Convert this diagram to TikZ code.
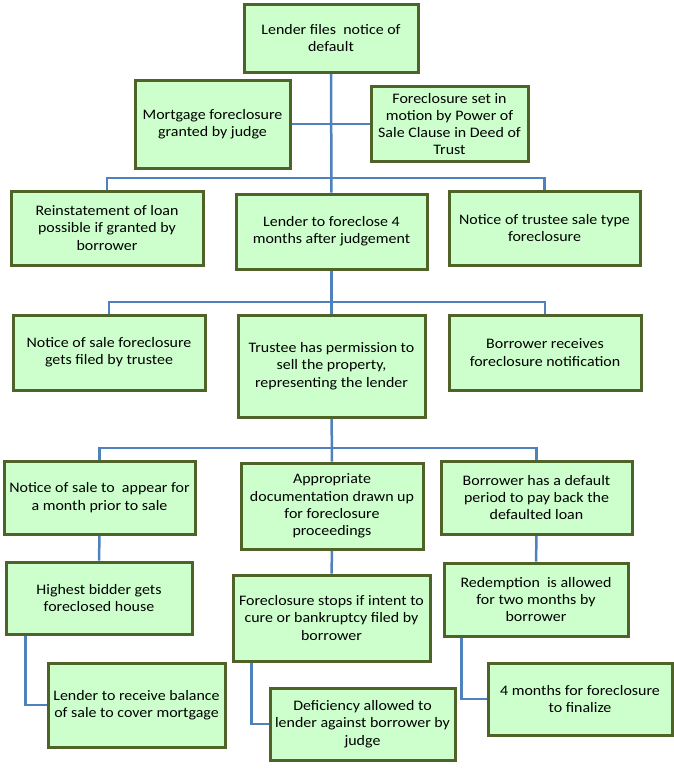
\documentclass[tikz,border=0pt]{standalone}
\usepackage{fontspec}
\setmainfont{Carlito}[FakeStretch=1.1]
\usetikzlibrary{backgrounds}
\definecolor{boxfill}{HTML}{CCFFCC}
\definecolor{boxline}{HTML}{4F6228}
\definecolor{linkblue}{HTML}{4F81BD}

\begin{document}
\begin{tikzpicture}[x=1pt,y=-1pt,
    box/.style={draw=boxline, fill=boxfill, line width=3pt, align=center,
        inner sep=1pt, font=\fontsize{14.5}{17.3}\selectfont},
    link/.style={draw=linkblue, line width=2.5pt}]
\useasboundingbox (0,0) rectangle (674,777);

% =========================================================
% Kopf
% =========================================================
\node[box, minimum width=174pt, minimum height=68pt] (default) at (331,38)
    {Lender files\ \ notice of\\default};
\node[box, minimum width=155pt, minimum height=88pt] (mortgage) at (212.5,124)
    {Mortgage foreclosure\\granted by judge};
\node[box, minimum width=157pt, minimum height=75pt] (powsale) at (449.5,124)
    {Foreclosure set in\\motion by Power of\\Sale Clause in Deed of\\Trust};

% =========================================================
% Reihe 2
% =========================================================
\node[box, minimum width=192pt, minimum height=74pt] (reinst) at (107,228)
    {Reinstatement of loan\\possible if granted by\\borrower};
\node[box, minimum width=191pt, minimum height=75pt] (lend4) at (331.5,231.5)
    {Lender to foreclose 4\\months after judgement};
\node[box, minimum width=191pt, minimum height=74pt] (trustsale) at (544.5,228)
    {Notice of trustee sale type\\foreclosure};

% =========================================================
% Reihe 3
% =========================================================
\node[box, minimum width=192pt, minimum height=75pt] (notsale) at (109,352.5)
    {Notice of sale foreclosure\\gets filed by trustee};
\node[box, minimum width=187pt, minimum height=102pt] (trustee) at (331.5,366)
    {Trustee has permission to\\sell the property,\\representing the lender};
\node[box, minimum width=192pt, minimum height=75pt] (borrec) at (545,352.5)
    {Borrower receives\\foreclosure notification};

% =========================================================
% Reihe 4
% =========================================================
\node[box, minimum width=191pt, minimum height=73pt] (noticeapp) at (99.5,497.5)
    {Notice of sale to\ \ appear for\\a month prior to sale};
\node[box, minimum width=182pt, minimum height=86pt] (approp) at (332,506)
    {Appropriate\\documentation drawn up\\for foreclosure\\proceedings};
\node[box, minimum width=191pt, minimum height=73pt] (borrdef) at (536.5,497.5)
    {Borrower has a default\\period to pay back the\\defaulted loan};

% =========================================================
% Reihe 5
% =========================================================
\node[box, minimum width=186pt, minimum height=72pt] (highest) at (99,598)
    {Highest bidder gets\\foreclosed house};
\node[box, minimum width=197pt, minimum height=86pt] (stops) at (331.5,618)
    {Foreclosure stops if intent to\\cure or bankruptcy filed by\\borrower};
\node[box, minimum width=184pt, minimum height=73pt] (redemp) at (536,599.5)
    {Redemption\ \ is allowed\\for two months by\\borrower};

% =========================================================
% Reihe 6
% =========================================================
\node[box, minimum width=177pt, minimum height=84pt] (balance) at (136.5,705)
    {Lender to receive balance\\of sale to cover mortgage};
\node[box, minimum width=185pt, minimum height=72pt] (defic) at (362.5,724)
    {Deficiency allowed to\\lender against borrower by\\judge};
\node[box, minimum width=184pt, minimum height=72pt] (fourm) at (580,699)
    {4 months for foreclosure\\to finalize};

% =========================================================
% Verbindungen
% =========================================================
\coordinate (bus1) at (331,178);
\coordinate (bus2) at (331,302);
\coordinate (bus3) at (331,448);
\begin{scope}[on background layer]
\draw[link] (default) -- (lend4);
\draw[link] (mortgage) -- (powsale);
\draw[link] (reinst.north) |- (bus1) -| (trustsale.north);
\draw[link] (lend4) -- (trustee);
\draw[link] (notsale.north) |- (bus2) -| (borrec.north);
\draw[link] (trustee) -- (approp);
\draw[link] (noticeapp.north) |- (bus3) -| (borrdef.north);
\draw[link] (noticeapp) -- (highest);
\draw[link] (approp) -- (stops);
\draw[link] (borrdef) -- (redemp);
% Seitenzweige
\draw[link] ([xshift=21pt]highest.south west) |- (balance.west);
\draw[link] ([xshift=20pt]stops.south west) |- (defic.west);
\draw[link] ([xshift=19pt]redemp.south west) |- (fourm.west);
\end{scope}

\end{tikzpicture}
\end{document}
